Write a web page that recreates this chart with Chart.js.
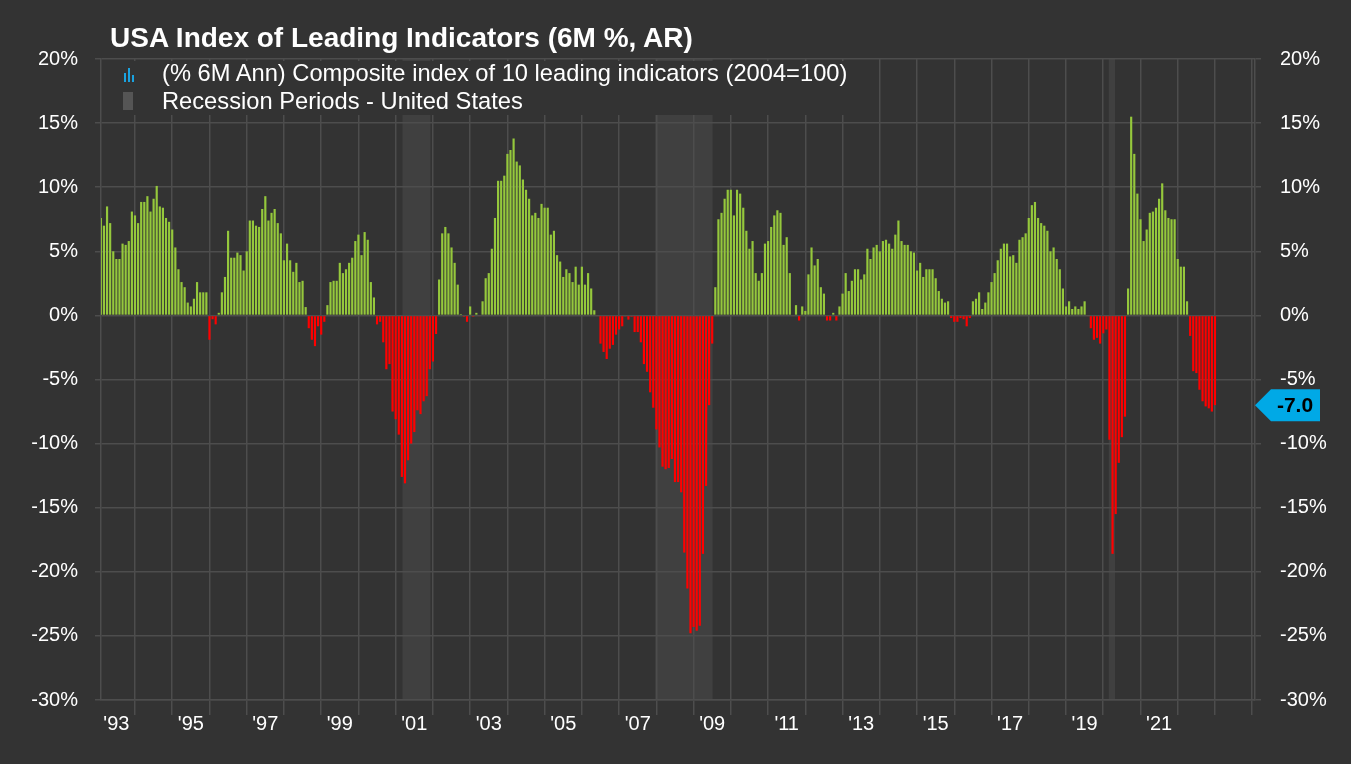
<!DOCTYPE html>
<html>
<head>
<meta charset="utf-8">
<script src="https://cdn.jsdelivr.net/npm/chart.js@4.4.0/dist/chart.umd.min.js"></script>
<style>
  html, body { margin: 0; padding: 0; background: #333333; }
  #wrap { position: relative; width: 1351px; height: 764px; background: #333333; }
  #chart { position: absolute; left: 0; top: 0; }
  #title { position: absolute; left: 110px; top: 24px; font: bold 28px/28px "Liberation Sans", Arial, sans-serif; color: #ffffff; white-space: nowrap; }
  #legend { position: absolute; left: 102px; top: 61px; width: 770px; height: 54px; background: #333333; }
  .item { position: absolute; left: 60px; font: 23.7px/24px "Liberation Sans", Arial, sans-serif; color: #ffffff; white-space: nowrap; }
  .icon { position: absolute; left: 21px; }
</style>
</head>
<body>
<div id="wrap">
  <canvas id="chart" width="1351" height="764"></canvas>
  <div id="title">USA Index of Leading Indicators (6M %, AR)</div>
  <div id="legend">
    <svg class="icon" style="top:5px" width="12" height="16" viewBox="0 0 12 16">
      <rect x="1" y="7" width="2" height="9" fill="#1aa3e0"/>
      <rect x="5" y="2" width="2" height="14" fill="#1aa3e0"/>
      <rect x="9" y="9" width="2" height="7" fill="#1aa3e0"/>
    </svg>
    <div class="item" style="top:0px">(% 6M Ann) Composite index of 10 leading indicators (2004=100)</div>
    <svg class="icon" style="top:31px" width="10" height="18"><rect x="0" y="0" width="10" height="18" fill="#555555"/></svg>
    <div class="item" style="top:28px">Recession Periods - United States</div>
  </div>
</div>
<script>
// monthly values, Jan 1993 .. Dec 2022 (% 6M annualised)
var startYear = 1993;
var lei = [
  7.6, 7.0, 8.5, 7.2, 5.0, 4.4, 4.4, 5.6, 5.5, 5.8, 8.1, 7.8,
  7.2, 8.85, 8.85, 9.3, 8.1, 9.1, 10.1, 8.5, 8.4, 7.6, 7.3, 6.7,
  5.3, 3.6, 2.6, 2.2, 1.0, 0.7, 1.3, 2.6, 1.8, 1.8, 1.8, -1.9,
  -0.3, -0.7, 0.2, 1.8, 3.0, 6.6, 4.5, 4.5, 4.9, 4.7, 3.5, 5.0,
  7.4, 7.4, 7.0, 6.9, 8.3, 9.3, 7.4, 8.0, 8.3, 7.2, 6.4, 4.3,
  5.6, 4.3, 3.4, 4.1, 2.6, 2.7, 0.65, -1.0, -1.9, -2.4, -0.85, -1.5,
  -0.5, 0.8, 2.6, 2.7, 2.7, 4.1, 3.3, 3.6, 4.1, 4.5, 5.8, 6.3,
  4.7, 6.5, 5.9, 2.6, 1.4, -0.7, -0.5, -2.1, -4.2, -3.8, -7.5, -8.1,
  -9.3, -12.6, -13.1, -11.3, -10.0, -9.1, -7.4, -7.7, -6.7, -6.3, -4.2, -3.6,
  -1.45, 2.8, 6.4, 6.9, 6.4, 5.3, 4.1, 2.4, 0.1, -0.1, -0.5, 0.7,
  -0.1, 0.2, -0.05, 1.1, 2.9, 3.3, 5.2, 7.6, 10.5, 10.5, 10.9, 12.6,
  12.9, 13.8, 12.0, 11.7, 10.6, 9.8, 9.1, 7.8, 8.0, 7.6, 8.7, 8.4,
  8.4, 6.3, 6.6, 4.7, 4.2, 3.0, 3.6, 3.3, 2.6, 3.8, 2.4, 3.8,
  2.4, 3.3, 2.1, 0.4, -0.05, -2.2, -2.85, -3.4, -2.6, -2.3, -1.5, -1.1,
  -0.85, -0.08, -0.33, -0.1, -1.3, -1.3, -2.1, -3.8, -4.4, -6.0, -7.2, -8.9,
  -10.3, -11.8, -12.0, -11.9, -11.2, -13.0, -13.0, -13.8, -18.5, -21.3, -24.8, -24.3,
  -24.6, -24.2, -18.6, -13.3, -7.0, -2.2, 2.2, 7.5, 8.0, 9.1, 9.8, 9.8,
  7.8, 9.8, 9.5, 8.4, 6.6, 5.2, 5.8, 3.3, 2.7, 3.3, 5.6, 5.8,
  6.9, 7.8, 8.2, 8.0, 5.5, 6.1, 3.3, -0.05, 0.8, -0.4, 0.7, 0.35,
  3.2, 5.3, 3.9, 4.4, 2.2, 1.7, -0.4, -0.4, 0.2, -0.4, 0.7, 1.7,
  3.3, 1.9, 2.7, 3.6, 3.6, 2.8, 3.2, 5.2, 4.4, 5.3, 5.5, 5.0,
  5.8, 5.9, 5.6, 5.2, 6.3, 7.4, 5.8, 5.5, 5.5, 5.0, 4.9, 3.5,
  4.1, 3.0, 3.6, 3.6, 3.6, 2.9, 1.9, 1.3, 1.0, 1.1, -0.2, -0.5,
  -0.5, -0.2, -0.3, -0.85, -0.2, 1.1, 1.3, 1.8, 0.5, 1.0, 1.8, 2.6,
  3.3, 4.3, 5.2, 5.6, 5.6, 4.6, 4.7, 4.1, 5.9, 6.1, 6.4, 7.6,
  8.6, 8.85, 7.6, 7.2, 7.0, 6.6, 5.0, 5.3, 4.4, 3.6, 2.1, 0.7,
  1.1, 0.5, 0.7, 0.5, 0.7, 1.1, -0.05, -1.0, -1.9, -1.75, -2.2, -1.4,
  -1.1, -9.7, -18.6, -15.5, -11.5, -9.5, -7.9, 2.1, 15.5, 12.6, 9.5, 7.5,
  5.8, 6.7, 8.0, 8.1, 8.4, 9.1, 10.3, 8.2, 7.6, 7.5, 7.5, 4.4,
  3.8, 3.8, 1.1, -1.6, -4.35, -4.5, -5.8, -6.7, -7.1, -7.25, -7.5, -7.0
];

// recession periods, in months after Jan 1993
var recStart = [98.2, 179.6, 325.8];
var recEnd = [107.2, 198.1, 327.8];

var yTicks = [20, 15, 10, 5, 0, -5, -10, -15, -20, -25, -30];
var xLabelYears = [1993, 1995, 1997, 1999, 2001, 2003, 2005, 2007, 2009, 2011, 2013, 2015, 2017, 2019, 2021];
var xLabels = ["'93", "'95", "'97", "'99", "'01", "'03", "'05", "'07", "'09", "'11", "'13", "'15", "'17", "'19", "'21"];

var FONT = "'Liberation Sans', Arial, sans-serif";
var GRID = '#4d4d4d';

var recessionPlugin = {
    id: 'recessions',
    beforeDraw: function (chart) {
        var ctx = chart.ctx, area = chart.chartArea, x = chart.scales.x;
        ctx.save();
        ctx.fillStyle = '#404040';
        for (var i = 0; i < recStart.length; i++) {
            var x0 = x.getPixelForValue(recStart[i]);
            var x1 = x.getPixelForValue(recEnd[i]);
            ctx.fillRect(x0, area.top, x1 - x0, area.bottom - area.top);
        }
        ctx.restore();
    }
};

var lastTagPlugin = {
    id: 'lastTag',
    afterDraw: function (chart) {
        var ctx = chart.ctx, area = chart.chartArea;
        var last = lei[lei.length - 1];
        var y = chart.scales.y2.getPixelForValue(last);
        var x = area.right;
        ctx.save();
        ctx.fillStyle = '#00a9e6';
        ctx.beginPath();
        ctx.moveTo(x, y);
        ctx.lineTo(x + 16, y - 16);
        ctx.lineTo(x + 65, y - 16);
        ctx.lineTo(x + 65, y + 16);
        ctx.lineTo(x + 16, y + 16);
        ctx.closePath();
        ctx.fill();
        ctx.fillStyle = '#000000';
        ctx.font = 'bold 21px ' + FONT;
        ctx.textAlign = 'center';
        ctx.textBaseline = 'middle';
        ctx.fillText(last.toFixed(1), x + 40, y + 1);
        ctx.restore();
    }
};

var xTickValues = [];
for (var u = 6; u <= 372; u += 6) xTickValues.push(u);

new Chart(document.getElementById('chart'), {
    type: 'bar',
    data: {
        datasets: [{
            label: '(% 6M Ann) Composite index of 10 leading indicators (2004=100)',
            data: lei.map(function (v, i) { return { x: i + 1, y: v }; }),
            backgroundColor: function (c) { return c.raw && c.raw.y < 0 ? '#ff0000' : '#95c83c'; },
            borderWidth: 0,
            barPercentage: 0.7,
            categoryPercentage: 1
        }]
    },
    options: {
        responsive: false,
        animation: false,
        layout: { padding: { top: 59, left: 0, right: 0, bottom: 0 } },
        plugins: {
            legend: { display: false },
            tooltip: { enabled: false }
        },
        scales: {
            x: {
                type: 'linear',
                offset: false,
                min: 1.05,
                max: 372.9,
                afterBuildTicks: function (s) {
                    s.ticks = xTickValues.map(function (v) { return { value: v }; });
                },
                afterFit: function (s) { s.height = 64; },
                grid: {
                    offset: false,
                    color: function (c) { return c.tick && c.tick.value % 12 === 0 ? GRID : 'rgba(0,0,0,0)'; },
                    tickColor: function (c) { return c.tick && c.tick.value % 12 === 0 ? GRID : 'rgba(0,0,0,0)'; },
                    tickLength: 15,
                    lineWidth: 1.5
                },
                border: { display: true, color: GRID, width: 1.5 },
                ticks: {
                    autoSkip: false,
                    maxRotation: 0,
                    padding: -3,
                    color: '#ffffff',
                    font: { size: 20, family: FONT },
                    callback: function (v) {
                        var yr = startYear + (v - 6) / 12;
                        var k = xLabelYears.indexOf(yr);
                        return k >= 0 ? xLabels[k] : '';
                    }
                }
            },
            y: {
                position: 'left',
                min: -30,
                max: 20,
                afterBuildTicks: function (s) {
                    s.ticks = yTicks.map(function (v) { return { value: v }; });
                },
                afterFit: function (s) { s.width = 101; },
                grid: { color: GRID, tickColor: GRID, tickLength: 6, lineWidth: 1.5 },
                border: { display: true, color: GRID, width: 1.5 },
                ticks: {
                    padding: 17,
                    color: '#ffffff',
                    font: { size: 20, family: FONT },
                    callback: function (v) { return v + '%'; }
                }
            },
            y2: {
                position: 'right',
                min: -30,
                max: 20,
                afterBuildTicks: function (s) {
                    s.ticks = yTicks.map(function (v) { return { value: v }; });
                },
                afterFit: function (s) { s.width = 96; },
                grid: { drawOnChartArea: false, tickColor: GRID, tickLength: 6, lineWidth: 1.5 },
                border: { display: true, color: GRID, width: 1.5 },
                ticks: {
                    padding: 19,
                    color: '#ffffff',
                    font: { size: 20, family: FONT },
                    callback: function (v) { return v + '%'; }
                }
            }
        }
    },
    plugins: [recessionPlugin, lastTagPlugin]
});
</script>
</body>
</html>
